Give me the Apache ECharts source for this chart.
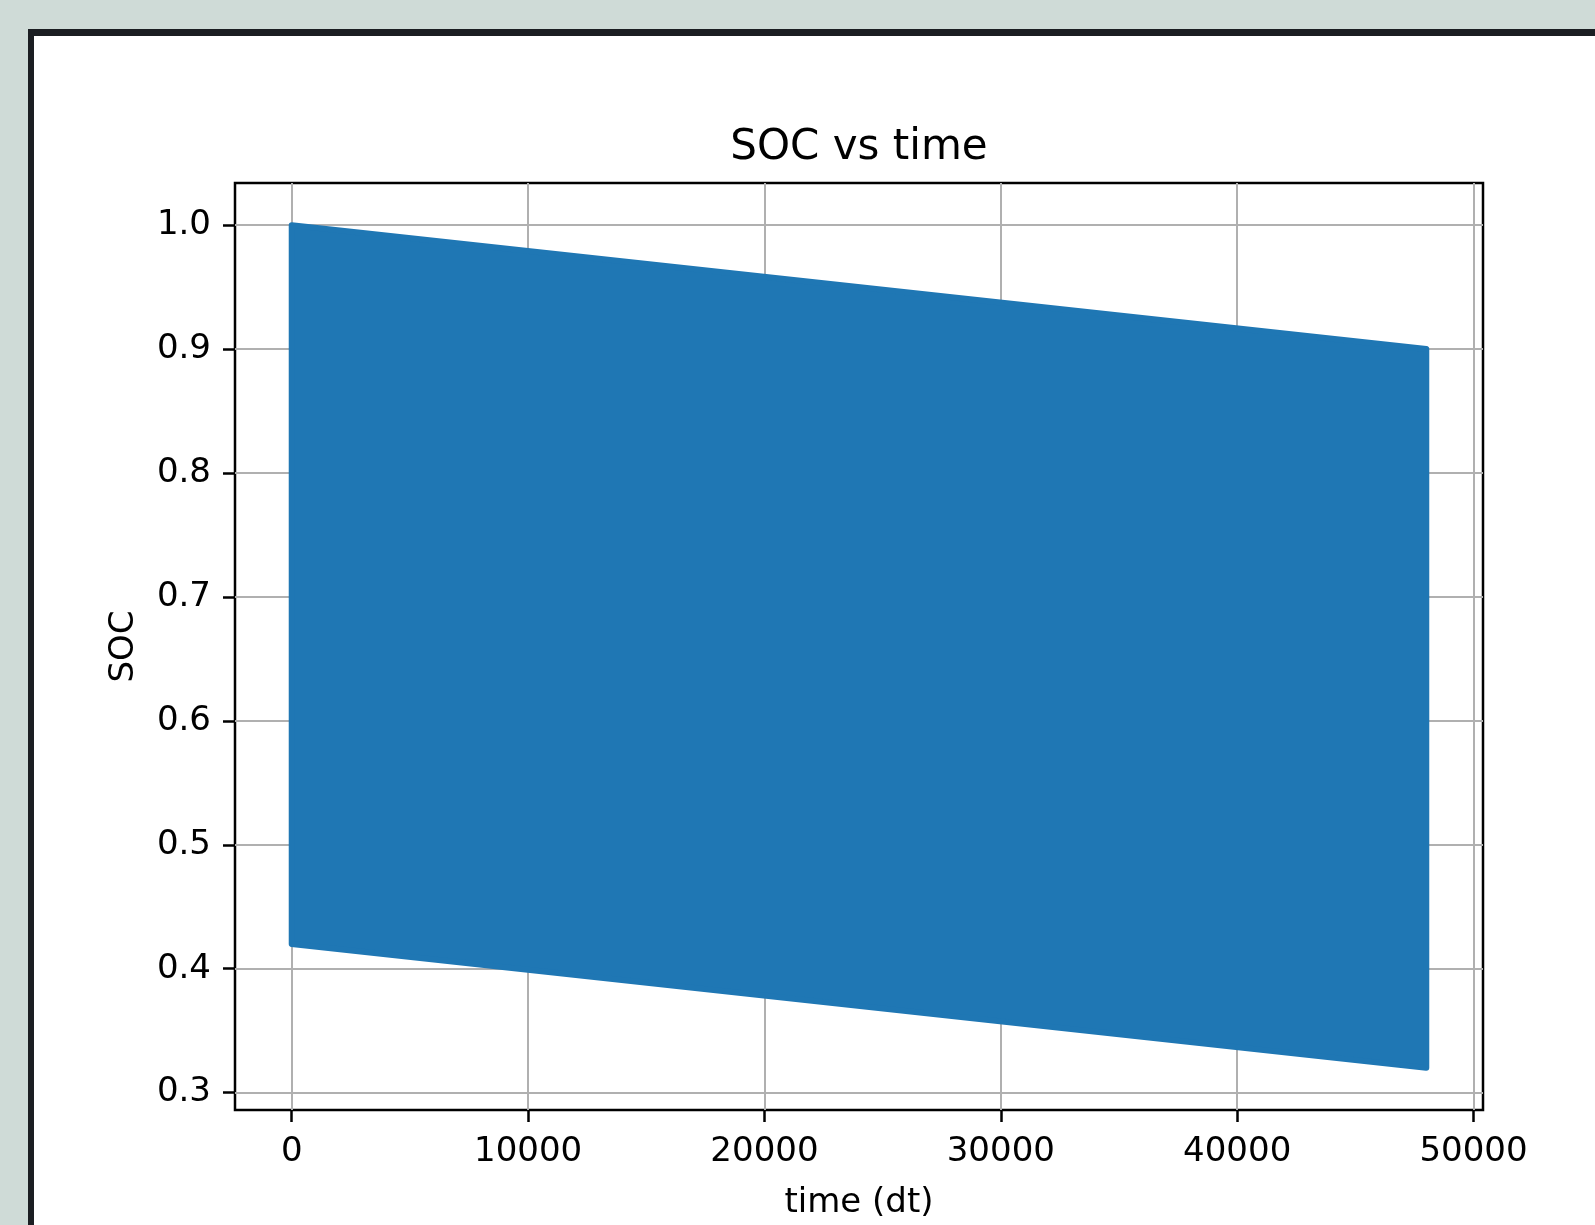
<!DOCTYPE html>
<html>
<head>
<meta charset="utf-8">
<script src="https://cdn.jsdelivr.net/npm/echarts@6/dist/echarts.min.js"></script>
<style>
html, body { margin: 0; padding: 0; background: #cfdbd7; overflow: hidden; }
#frame { position: absolute; left: 28px; top: 29px; width: 1600px; height: 1230px;
  border-left: 6px solid #1b1e22; border-top: 7px solid #1b1e22; background: #fff; }
#chart { position: absolute; left: 0; top: 0; width: 1595px; height: 1225px; }
</style>
</head>
<body>
<div id="frame"></div>
<div id="chart"></div>
<script>
// envelope of the (dense) SOC trace
var timeSteps = [0, 48000];
var socUpper = [1.0, 0.9];
var socLower = [0.42, 0.32];

var xTicks = [0, 10000, 20000, 30000, 40000, 50000];
var yTicks = [0.3, 0.4, 0.5, 0.6, 0.7, 0.8, 0.9, 1.0];

var font = '"DejaVu Sans", sans-serif';
var blue = '#1f77b4';

var bandData = [];
for (var i = 0; i < timeSteps.length; i++) {
	bandData.push([timeSteps[i], socUpper[i], socLower[i]]);
}

function renderBand(params, api) {
	var i = params.dataIndex;
	if (i >= bandData.length - 1) {
		return null;
	}
	var a = bandData[i], b = bandData[i + 1];
	var pts = [
		api.coord([a[0], a[1]]),
		api.coord([b[0], b[1]]),
		api.coord([b[0], b[2]]),
		api.coord([a[0], a[2]])
	];
	return {
		type: 'polygon',
		shape: { points: pts },
		style: { fill: blue, stroke: blue, lineWidth: 6, lineJoin: 'round' }
	};
}

var myChart = echarts.init(document.getElementById('chart'), null, { renderer: 'canvas' });

var option = {
	animation: false,
	title: {
		text: 'SOC vs time',
		left: 859,
		top: 127,
		padding: 0,
		textAlign: 'center',
		textStyle: { fontFamily: font, fontSize: 42, fontWeight: 'normal', color: '#000' }
	},
	grid: {
		left: 235, top: 183, width: 1248, height: 928,
		show: true, borderColor: '#000', borderWidth: 2.5, backgroundColor: 'transparent'
	},
	xAxis: {
		type: 'value',
		min: -2400,
		max: 50400,
		name: 'time (dt)',
		nameLocation: 'middle',
		nameGap: 76,
		nameTextStyle: { fontFamily: font, fontSize: 34, color: '#000' },
		axisLine: { show: false, onZero: false },
		axisTick: { show: true, length: 12, lineStyle: { color: '#000', width: 2.5 }, customValues: xTicks },
		axisLabel: { customValues: xTicks, margin: 25, fontFamily: font, fontSize: 34, color: '#000',
			formatter: function (v) { return String(v); } },
		splitLine: { show: true, lineStyle: { color: '#b0b0b0', width: 2 } }
	},
	yAxis: {
		type: 'value',
		min: 0.286,
		max: 1.034,
		name: 'SOC',
		nameLocation: 'middle',
		nameGap: 94,
		nameRotate: 90,
		nameTextStyle: { fontFamily: font, fontSize: 34, color: '#000' },
		axisLine: { show: false, onZero: false },
		axisTick: { show: true, length: 12, lineStyle: { color: '#000', width: 2.5 }, customValues: yTicks },
		axisLabel: { customValues: yTicks, margin: 24, fontFamily: font, fontSize: 34, color: '#000',
			padding: [4, 0, 0, 0],
			formatter: function (v) { return v.toFixed(1); } },
		splitLine: { show: true, lineStyle: { color: '#b0b0b0', width: 2 } }
	},
	series: [{
		type: 'custom',
		name: 'SOC',
		renderItem: renderBand,
		data: bandData,
		encode: { x: 0, y: [1, 2] },
		clip: true
	}]
};

myChart.setOption(option, true);
window.onresize = myChart.resize;
</script>
</body>
</html>
